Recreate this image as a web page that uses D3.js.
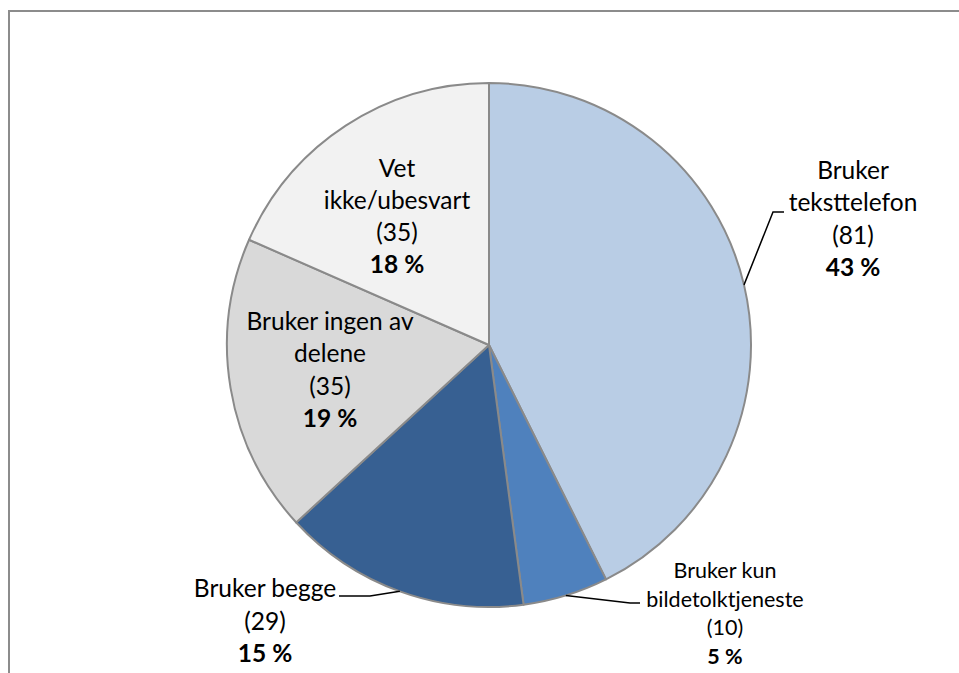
<!DOCTYPE html>
<html>
<head>
<meta charset="utf-8">
<script src="https://cdn.jsdelivr.net/npm/d3@7"></script>
<style>
  html, body { margin: 0; padding: 0; background: #fff; }
  svg { display: block; }
  text { font-family: Lato, "Open Sans", sans-serif; fill: #000; }
</style>
</head>
<body>
<svg id="chart" width="959" height="673"></svg>
<script>
// ---- data ----
const categories = ["Bruker teksttelefon", "Bruker kun bildetolktjeneste", "Bruker begge", "Bruker ingen av delene", "Vet ikke/ubesvart"];
const counts = [81, 10, 29, 35, 35];
const percentLabels = ["43 %", "5 %", "15 %", "19 %", "18 %"];
const labelLines = [
  ["Bruker", "teksttelefon"],
  ["Bruker kun", "bildetolktjeneste"],
  ["Bruker begge"],
  ["Bruker ingen av", "delene"],
  ["Vet", "ikke/ubesvart"]
];
const colors = ["#B9CDE5", "#4F81BD", "#376092", "#D9D9D9", "#F2F2F2"];

// ---- layout ----
const svg = d3.select("#chart");
const cx = 489, cy = 345, R = 262;

// frame (extends past right/bottom edges)
svg.append("rect").attr("x", 9).attr("y", 11).attr("width", 1000).attr("height", 1000)
  .attr("fill", "none").attr("stroke", "#8c8c8c").attr("stroke-width", 2);

const pie = d3.pie().sort(null).value(d => d)(counts);
const arc = d3.arc().innerRadius(0).outerRadius(R);

const g = svg.append("g").attr("transform", `translate(${cx},${cy})`);
g.selectAll("path").data(pie).join("path")
  .attr("d", arc)
  .attr("fill", (d, i) => colors[i])
  .attr("stroke", "#8a8a8a")
  .attr("stroke-width", 2)
  .attr("stroke-linejoin", "round");

// label placements (relative to pie center): x center, first baseline, line step, font size
const labelPos = [
  { x: 364, y: -166, step: 32.3, size: 24.5 },
  { x: 236, y: 233, step: 28.7, size: 21.5 },
  { x: -224, y: 252, step: 32.5, size: 24.5 },
  { x: -159, y: -15, step: 32.3, size: 24.5 },
  { x: -92, y: -168, step: 32, size: 24.5 }
];

labelPos.forEach((p, i) => {
  const lines = labelLines[i].concat(["(" + counts[i] + ")", percentLabels[i]]);
  const t = g.append("text").attr("text-anchor", "middle").attr("font-size", p.size);
  lines.forEach((ln, j) => {
    t.append("tspan").attr("x", p.x).attr("y", p.y + j * p.step)
      .attr("font-weight", j === lines.length - 1 ? "bold" : "normal")
      .text(ln);
  });
});

// leader lines: anchor at slice mid-angle on the arc edge, then elbow points
function edgePoint(d) {
  const a = (d.startAngle + d.endAngle) / 2;
  return [Math.sin(a) * R, -Math.cos(a) * R];
}
const leaders = [
  { i: 0, pts: [[284, -133], [295, -133]] },
  { i: 1, pts: [[141, 258], [151, 258]] },
  { i: 2, pts: [[-119, 251], [-150, 251]] }
];
const line = d3.line();
leaders.forEach(l => {
  const start = edgePoint(pie[l.i]);
  g.append("path").attr("d", line([start].concat(l.pts)))
    .attr("fill", "none").attr("stroke", "#000").attr("stroke-width", 1.5);
});
</script>
</body>
</html>
